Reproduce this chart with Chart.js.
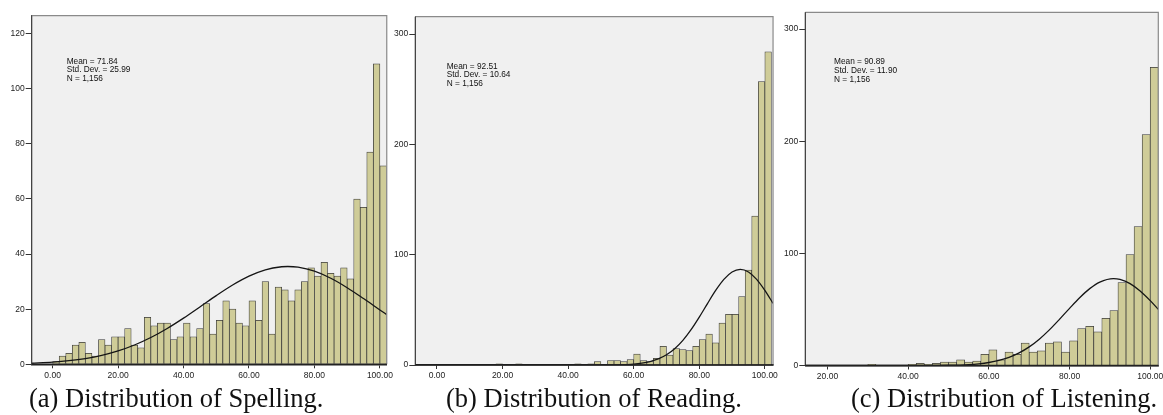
<!DOCTYPE html>
<html><head><meta charset="utf-8">
<script src="https://cdn.jsdelivr.net/npm/chart.js@4.4.1/dist/chart.umd.min.js"></script>
<style>
html,body{margin:0;padding:0;background:#fff;width:1163px;height:415px;overflow:hidden;position:relative;}
.panel{position:absolute;top:0;height:390px;}
.stats{position:absolute;font-family:"Liberation Sans",Arial,sans-serif;font-size:8.3px;line-height:8.6px;color:#111;white-space:pre;}
.cap{position:absolute;top:385px;font-family:"Liberation Serif","Times New Roman",serif;font-size:26.5px;line-height:26.5px;color:#111;white-space:nowrap;}
</style></head><body>
<div class="panel" style="left:0;width:395px"><canvas id="cA"></canvas></div>
<div class="panel" style="left:390px;width:390px"><canvas id="cB"></canvas></div>
<div class="panel" style="left:780px;width:390px"><canvas id="cC"></canvas></div>
<div class="stats" style="left:66.7px;top:56.7px">Mean = 71.84
Std. Dev. = 25.99
N = 1,156</div>
<div class="stats" style="left:446.7px;top:61.7px">Mean = 92.51
Std. Dev. = 10.64
N = 1,156</div>
<div class="stats" style="left:834px;top:57.4px">Mean = 90.89
Std. Dev. = 11.90
N = 1,156</div>
<div class="cap" style="left:29px">(a) Distribution of Spelling.</div>
<div class="cap" style="left:446px">(b) Distribution of Reading.</div>
<div class="cap" style="left:851px">(c) Distribution of Listening.</div>
<script>
// ---- data ----
const BIN_START = 0;
const BIN_WIDTH = 2;
// counts per bin [0,2), [2,4), ... [100,102)
const spellingCounts = [1,3,4,7,8,4,3,9,7,10,10,13,7,6,17,14,15,15,9,10,15,10,13,22,11,16,23,20,15,14,23,16,30,11,28,27,23,27,30,35,32,37,33,32,35,31,60,57,77,109,72];
const readingCounts = [0,0,0,0,0,0,0,0,0,1,0,0,1,0,0,0,0,0,0,0,0,1,0,1,3,0,4,4,3,5,10,4,3,6,17,9,15,14,13,17,23,28,20,38,46,46,62,86,135,257,284];
const listeningCounts = [0,0,0,0,0,0,0,0,0,0,0,0,0,0,0,1,0,0,0,0,1,2,1,2,3,3,5,3,4,10,14,5,12,10,20,12,13,20,21,12,22,33,35,30,42,49,74,99,124,206,266];

// normal curves
const spellingCurveX = [-6.4,0,5,10,15,20,25,30,35,40,45,50,55,60,65,70,71.84,75,80,85,90,95,100,102.1];
const spellingCurveY = [0.38,0.78,1.30,2.09,3.25,4.86,7.00,9.71,13.00,16.76,20.82,24.93,28.77,31.99,34.28,35.40,35.49,35.23,33.78,31.22,27.80,23.86,19.73,18.02];
const readingCurveX = [-6.6,40,50,55,60,62.5,65,67.5,70,72.5,75,77.5,80,82.5,85,87.5,90,92.51,95,97.5,100,102.5];
const readingCurveY = [0,0,0.03,0.17,0.81,1.62,3.07,5.47,9.25,14.79,22.38,32.05,43.43,55.69,67.57,77.59,84.31,86.69,84.35,77.66,67.66,55.79];
const listeningCurveX = [14.5,40,45,50,55,57.5,60,62.5,65,67.5,70,72.5,75,77.5,80,82.5,85,87.5,90.89,92.5,95,97.5,100,102];
const listeningCurveY = [0,0.01,0.05,0.21,0.82,1.51,2.67,4.50,7.27,11.23,16.60,23.48,31.78,41.16,50.99,60.45,68.57,74.43,77.51,76.80,73.02,66.43,57.82,50.13];

const spellingXTicks = [0,20,40,60,80,100];
const readingXTicks = [0,20,40,60,80,100];
const listeningXTicks = [20,40,60,80,100];
const spellingYTicks = [0,20,40,60,80,100,120];
const readingYTicks = [0,100,200,300];
const listeningYTicks = [0,100,200,300];

// ---- drawing ----
const TICK_FONT = {family:'"Liberation Sans", Arial, sans-serif', size:8.5};
const framePlugin = {
  id:'frame',
  beforeDraw(chart){
    const {ctx, chartArea:a} = chart;
    ctx.save(); ctx.fillStyle='#f0f0f0';
    ctx.fillRect(a.left,a.top,a.right-a.left,a.bottom-a.top); ctx.restore();
  },
  afterDraw(chart){
    const {ctx, chartArea:a} = chart;
    ctx.save();
    ctx.strokeStyle='#8a8a8a'; ctx.lineWidth=1.2;
    ctx.beginPath(); ctx.moveTo(a.left,a.top); ctx.lineTo(a.right,a.top); ctx.lineTo(a.right,a.bottom); ctx.stroke();
    ctx.strokeStyle='#444'; ctx.lineWidth=1.2;
    ctx.beginPath(); ctx.moveTo(a.left,a.top); ctx.lineTo(a.left,a.bottom); ctx.stroke();
    ctx.strokeStyle='#222'; ctx.lineWidth=1.6;
    ctx.beginPath(); ctx.moveTo(a.left,a.bottom); ctx.lineTo(a.right,a.bottom); ctx.stroke();
    ctx.restore();
  }
};

function makeChart(id, cfg){
  const bars = cfg.counts.map((c,i)=>({x: BIN_START + i*BIN_WIDTH + BIN_WIDTH/2, y: c}));
  const curve = cfg.curveX.map((x,i)=>({x, y: cfg.curveY[i]}));
  return new Chart(document.getElementById(id), {
    type:'bar',
    data:{datasets:[
      {type:'line', data:curve, borderColor:'#151515', borderWidth:1.3, pointRadius:0, fill:false,
       cubicInterpolationMode:'monotone', order:0},
      {type:'bar', data:bars, backgroundColor:'#cfcc98', borderColor:'#3a3a3a', borderWidth:0.75,
       borderSkipped:'start', barPercentage:1, categoryPercentage:1, order:1}
    ]},
    options:{
      responsive:true, maintainAspectRatio:false, animation:false, devicePixelRatio:1,
      layout:{padding:{top:cfg.top, right:cfg.right, left:0, bottom:0}},
      plugins:{legend:{display:false}, tooltip:{enabled:false}},
      scales:{
        x:{type:'linear', min:cfg.xMin, max:cfg.xMax, offset:false,
           afterBuildTicks:s=>{ s.ticks = cfg.xTicks.map(v=>({value:v})); },
           afterFit:s=>{ s.height = cfg.axisH; },
           ticks:{callback:v=>Number(v).toFixed(2), font:TICK_FONT, color:'#222', padding:2, maxRotation:0, autoSkip:false},
           grid:{display:true, drawOnChartArea:false, drawTicks:true, tickLength:4, color:'#333', offset:false},
           border:{display:true, color:'#222', width:1.5}},
        y:{min:0, max:cfg.yMax,
           afterBuildTicks:s=>{ s.ticks = cfg.yTicks.map(v=>({value:v})); },
           afterFit:s=>{ s.width = cfg.yW; },
           ticks:{font:TICK_FONT, color:'#222', padding:1},
           grid:{display:true, drawOnChartArea:false, drawTicks:true, tickLength:6, color:'#333'},
           border:{display:true, color:'#444', width:1}}
      }
    },
    plugins:[framePlugin]
  });
}

makeChart('cA', {counts:spellingCounts, curveX:spellingCurveX, curveY:spellingCurveY,
  xTicks:spellingXTicks, yTicks:spellingYTicks, xMin:-6.4, xMax:102.1, yMax:126.5,
  top:15.7, right:6, yW:31.7, axisH:390-364.3});
makeChart('cB', {counts:readingCounts, curveX:readingCurveX, curveY:readingCurveY,
  xTicks:readingXTicks, yTicks:readingYTicks, xMin:-6.6, xMax:102.5, yMax:315.8,
  top:16.7, right:6.5, yW:25.3, axisH:390-365});
makeChart('cC', {counts:listeningCounts, curveX:listeningCurveX, curveY:listeningCurveY,
  xTicks:listeningXTicks, yTicks:listeningYTicks, xMin:14.5, xMax:102, yMax:315,
  top:12.3, right:11.7, yW:25.3, axisH:390-365.5});
</script>
</body></html>
